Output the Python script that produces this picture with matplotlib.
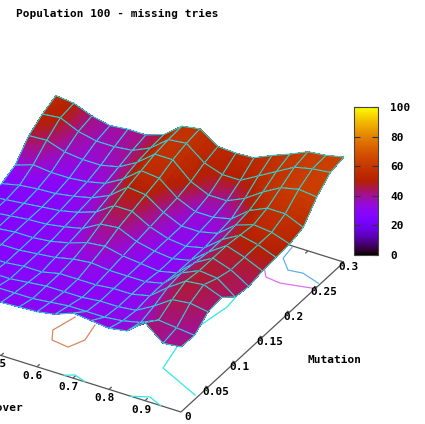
import numpy as np
import matplotlib
matplotlib.use("Agg")
import matplotlib.pyplot as plt
from matplotlib.colors import ListedColormap, Normalize
from matplotlib.cm import ScalarMappable
from mpl_toolkits.mplot3d import proj3d

title = "Population 100 - missing tries"
crossover = [1.0, .95, .9, .85, .8, .75, .7, .65, .6, .55, .5, .45, .4, .35, .3, .25, .2]
mutation = [0, .025, .05, .075, .1, .125, .15, .175, .2, .225, .25, .275, .3]

z_m000 = [44.5,43.5,51,44,42.5,43.5,44.5,41,39.5,39,38.5,38,37,37,37,37,37]
z_m025 = [44,45,46,42,40,39,39,39,38,37,37,37,36,36,36,35,34]
z_m050 = [49.5,51,50,44,39,38,38,37,37,37,36,35,35,35,34,33,32]
z_m075 = [50.5,54,53,47,40,38,38,37,37,37,35,35,34,34,33,32,31]
z_m100 = [44.5,51,52,48,40,38,38,38,39,38,36,35,34,34,33,32,31]
z_m125 = [43.5,49,52,47,39,37,38,39,41,40,37,35,34,34,33,32,31]
z_m150 = [45,49,52,46,39,37,38,40,44,43,38,36,34.5,34,33,32,31]
z_m175 = [45.5,49,51,46,39,37,38,41,46,46,40,37,35,34,33,32,31]
z_m200 = [46,49,50,47,40,38,38,42,48,49,42,38,36,34.5,34,33,31]
z_m225 = [48,52,52,48,41,39,39,43,50,51,44,39,37,36,36,37,34]
z_m250 = [57,58,56,51,45,41,41,45,53,53,46,41,39,39,40,43,42.5]
z_m275 = [63,62,60,55,50,45,45,48,55,54,47,43,42,42,44,48,47]
z_m300 = [64.5,62.5,61.5,57.5,54,50,49.5,50,56,54.5,47.5,44.5,44.5,43.5,45.5,49,50]

v_m000 = [42,40,44,35,32,33,34,31,30,29,29,28,28,28,28,28,28]
v_m025 = [40,41,42,35,32,31,31,30,30,29,29,29,28,28,28,27,26]
v_m050 = [43,45,45,38,31,30,30,29,29,29,28,28,28,28,27,26,25]
v_m075 = [44,46,47,41,32,30,30,29,30,30,28,28,27,27,26,25,25]
v_m100 = [44,46,47,41,32,30,30,31,33,32,29,28,27,27,26,25,25]
v_m125 = [44,46,47,40,31,29,30,33,37,36,31,29,27,27,26,25,25]
v_m150 = [47,48,48,40,31,29,31,35,42,41,33,30,28,27,26,26,25]
v_m175 = [49,51,50,42,32,30,32,38,46,46,36,31,29,28,27,26,25]
v_m200 = [52,55,53,45,34,32,33,40,50,50,40,33,30,28,28,28,26]
v_m225 = [55,58,56,49,38,34,35,44,54,55,44,35,32,30,32,36,33]
v_m250 = [62,62,60,56,47,40,42,50,57,57,46,38,35,34,37,44,46]
v_m275 = [63,62,60,58,54,50,50,52,58,58,48,41,38,37,41,50,52]
v_m300 = [63,63,62,60,57,55,53,54,58,58,47,42,40,39,42,50,54]

x_ticks = [.5, .6, .7, .8, .9]
y_ticks = [.05, .1, .15, .2, .25, .3]
y_tick_labels = ["0.05", "0.1", "0.15", "0.2", "0.25", "0.3"]
cbar_ticks = [0, 20, 40, 60, 80, 100]

orange_c = [.567, .550, .571, .620, .639, .626]
orange_m = [.0921, .0624, .0470, .0440, .0624, .0895]
pink_c = [.846, .872, .915, .992]
pink_m = [.2551, .2412, .2388, .2463]
blue_c = [.859, .865, .902, .94, .994]
blue_m = [.2981, .2775, .2619, .2644, .2566]
cyan1_c = [.848, .859, .842, .845, .864, .991]
cyan1_m = [.2257, .1782, .1304, .0951, .0572, .0319]
cyan2_c = [.675, .697, .734]
cyan2_m = [0, .0056, 0]
cyan3_c = [.861, .902, .943]
cyan3_m = [0, .0079, 0]

Z = np.array([z_m000, z_m025, z_m050, z_m075, z_m100, z_m125, z_m150,
              z_m175, z_m200, z_m225, z_m250, z_m275, z_m300])
V = np.array([v_m000, v_m025, v_m050, v_m075, v_m100, v_m125, v_m150,
              v_m175, v_m200, v_m225, v_m250, v_m275, v_m300], dtype=float)
C, M = np.meshgrid(crossover, mutation)
Z0, Z1 = 12, 100

t = np.linspace(0, 1, 256)
palette = ListedColormap(np.c_[np.sqrt(t), t ** 3, np.clip(np.sin(2 * np.pi * t), 0, 1)])
norm = Normalize(0, 100)

W, H = 425, 424
fig = plt.figure(figsize=(W / 100, H / 100), dpi=100)
plt.rcParams["font.family"] = "DejaVu Sans Mono"
font = dict(family="DejaVu Sans Mono", fontweight="bold", fontsize=8, color="black")

ax = fig.add_axes([0, 0, 1, 1], projection="3d", computed_zorder=False)
ax.set_proj_type("ortho")
ax.view_init(elev=32.5, azim=-59.7)
ax.set_xlim(0, 1, view_margin=0)
ax.set_ylim(0, .3, view_margin=0)
ax.set_zlim(Z0, Z1, view_margin=0)
ax.set_box_aspect((417, 323, 209))
ax.set_xticks([]); ax.set_yticks([]); ax.set_zticks([])
ax.set_axis_off()
ax.patch.set_alpha(0)


def to_px(c, m, z):
    ax.apply_aspect()
    x, y, _ = proj3d.proj_transform(c, m, z, ax.get_proj())
    return ax.transData.transform((x, y))


target0 = np.array([181, H - 412.0])
target1 = np.array([344, H - 262.0])
target2 = np.array([181 - 360, H - 412 + 113.0])
for _ in range(3):
    p0, p1, p2 = to_px(1, 0, Z0), to_px(1, .3, Z0), to_px(0, 0, Z0)
    scale = np.linalg.norm(target2 - target1) / np.linalg.norm(p2 - p1)
    pos = ax.get_position(original=True)
    w = pos.width * W * scale
    cen = np.array([pos.x0 * W + pos.width * W / 2, pos.y0 * H + pos.height * H / 2])
    new_cen = target0 + (cen - p0) * scale
    ax.set_position([(new_cen[0] - w / 2) / W, (new_cen[1] - w / 2) / H, w / W, w / H])

line = dict(color="#555555", lw=.9, zorder=1, solid_capstyle="butt")
ax.plot([1, 0], [0, 0], [Z0, Z0], **line)
ax.plot([1, 1], [0, .3], [Z0, Z0], **line)
ax.plot([1, .8], [.3, .3], [Z0, Z0], **line)
ax.plot([.9, .9], [.3, .295], [Z0, Z0], **line)
for c in x_ticks:
    ax.plot([c, c], [0, .005], [Z0, Z0], **line)
    ax.text(c + .012, -.0153, Z0, f"{c:g}", ha="center", va="center", zorder=5000, **font)
for m, lab in zip(y_ticks, y_tick_labels):
    ax.plot([1, .992], [m, m], [Z0, Z0], **line)
    ax.text(.9988, m - .0103, Z0, lab, ha="left", va="center", zorder=5000, **font)
ax.text(1.0175, -.006, Z0, "0", ha="left", va="center", zorder=5000, **font)

for cc, mm, col in [(orange_c, orange_m, "#d8885c"), (pink_c, pink_m, "#e070f0"),
                    (blue_c, blue_m, "#60b0f0"), (cyan1_c, cyan1_m, "#30e8e8"),
                    (cyan2_c, cyan2_m, "#30e8e8"), (cyan3_c, cyan3_m, "#30e8e8")]:
    ax.plot(cc, mm, [Z0] * len(cc), color=col, lw=.9, zorder=2)

# Each mesh cell is painted back to front with smooth palette shading, then outlined.
u = np.linspace(0, 1, 5)
U, S = np.meshgrid(u, u)
mid = (u[:-1] + u[1:]) / 2
Uc, Sc = np.meshgrid(mid, mid)


def blend(A, i, j, a, b):
    return (A[i, j] * (1 - a) * (1 - b) + A[i, j + 1] * a * (1 - b)
            + A[i + 1, j] * (1 - a) * b + A[i + 1, j + 1] * a * b)


cells = [(i, j) for i in range(Z.shape[0] - 1) for j in range(Z.shape[1] - 1)]
M3 = ax.get_proj()
depth = [proj3d.proj_transform(C[i:i + 2, j:j + 2].mean(), M[i:i + 2, j:j + 2].mean(),
                               Z[i:i + 2, j:j + 2].mean(), M3)[2] for i, j in cells]
for rank, idx in enumerate(np.argsort(depth)[::-1]):
    i, j = cells[idx]
    faces = palette(norm(blend(V, i, j, Uc, Sc)))
    ax.plot_surface(blend(C, i, j, U, S), blend(M, i, j, U, S), blend(Z, i, j, U, S),
                    facecolors=faces, rstride=1, cstride=1, shade=False,
                    linewidth=0, antialiased=False, zorder=10 + 2 * rank)
    ring = [(i, j), (i, j + 1), (i + 1, j + 1), (i + 1, j), (i, j)]
    ax.plot([C[p] for p in ring], [M[p] for p in ring], [Z[p] for p in ring],
            color="#28dcdc", lw=.75, zorder=11 + 2 * rank)

cax = fig.add_axes([353.5 / W, (H - 255) / H, 24 / W, 148 / H])
fig.colorbar(ScalarMappable(norm, palette), cax=cax, ticks=cbar_ticks)
cax.tick_params(direction="in", length=4, width=.8, left=True, right=True, pad=9, color="#333333")
for lab in cax.get_yticklabels():
    lab.set(**font)
for s in cax.spines.values():
    s.set_edgecolor("#444444")

fig.text(16 / W, 1 - 14 / H, title, ha="left", va="center", **font)
fig.text(307 / W, 1 - 360 / H, "Mutation", ha="left", va="center", **font)
fig.text(23 / W, 1 - 408 / H, "Crossover", ha="right", va="center", **font)
fig.savefig("out.png", dpi=100)
